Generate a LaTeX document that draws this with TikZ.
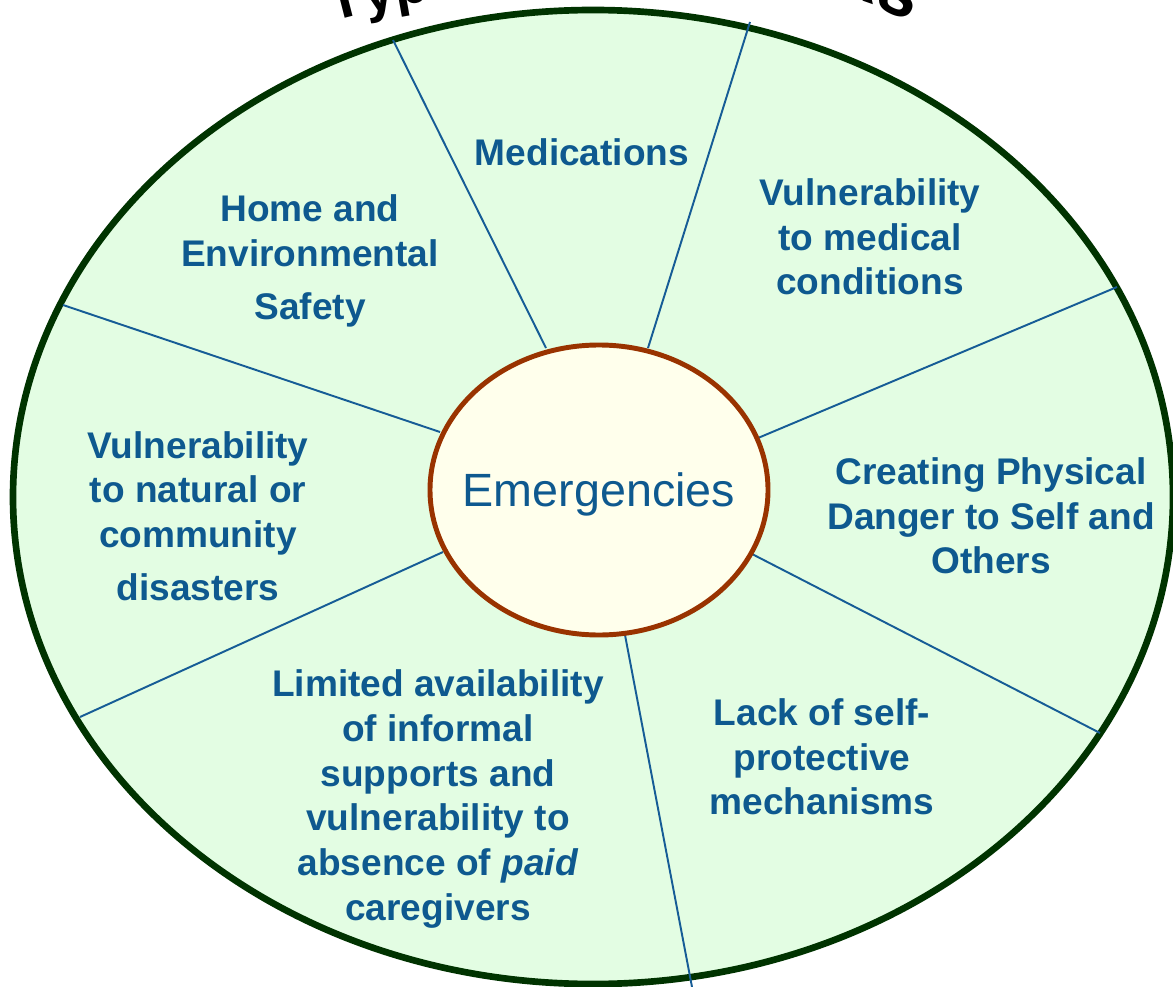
\documentclass[tikz,border=0pt]{standalone}
\usepackage{fontspec}
\setmainfont{Liberation Sans}
\usetikzlibrary{shapes.geometric,decorations.text}
\definecolor{outerfill}{RGB}{227,253,227}
\definecolor{outerline}{RGB}{0,51,0}
\definecolor{innerfill}{RGB}{255,255,236}
\definecolor{innerline}{RGB}{153,51,0}
\definecolor{spoke}{RGB}{22,92,150}
\definecolor{txt}{RGB}{14,89,143}
\newcommand{\titlestyle}{\fontsize{42}{42}\selectfont\bfseries}
\newcommand{\titlestyleb}{\fontsize{54}{54}\selectfont\bfseries}
\tikzset{
  catlabel/.style={text=txt, font=\fontsize{27.8}{33.5}\selectfont\bfseries, align=center, inner sep=0pt},
  spokeline/.style={draw=spoke, line width=1.45pt},
  titlepath/.style={decorate, decoration={text along path, text align=#1, text color=black}},
}
\begin{document}
\begin{tikzpicture}[x=0.75pt,y=-0.75pt]
\useasboundingbox (0,0) rectangle (1173,987);
\clip (0,0) rectangle (1173,987);
% title (mostly outside the picture)
\path[titlepath=left, decoration={text={|\titlestyle|Types of}}] (333,22) .. controls (500,-25) and (740,-25) .. (912,24);
\path[titlepath=right, decoration={text={|\titlestyleb|Risks}}] (333,22) .. controls (500,-25) and (730,-70) .. (910,22);
% outer ellipse
\node[ellipse, draw=outerline, fill=outerfill, line width=5pt, minimum width=870pt, minimum height=730.5pt, inner sep=0pt] (outer) at (593,497) {};
% spoke end points
\coordinate (oA) at (393,40);   \coordinate (iA) at (546,348);
\coordinate (oB) at (750,22);   \coordinate (iB) at (648,348);
\coordinate (oC) at (1117,287); \coordinate (iC) at (758,438);
\coordinate (oD) at (1100,733); \coordinate (iD) at (752,554);
\coordinate (oE) at (692,987);  \coordinate (iE) at (625,635);
\coordinate (oF) at (80,717);   \coordinate (iF) at (443,552);
\coordinate (oG) at (63,305);   \coordinate (iG) at (440,432);
\foreach \s in {A,B,C,D,E,F,G} { \draw[spokeline] (i\s) -- (o\s); }
% centre
\node[ellipse, draw=innerline, fill=innerfill, line width=3.7pt, minimum width=253.5pt, minimum height=217.5pt, inner sep=0pt, text=txt, font=\fontsize{35}{42}\selectfont, text depth=0pt] (em) at (599,490) {\makebox[0pt]{Emergencies}};
% labels
\node[catlabel] (med) at (582,152) {Medications};
\node[catlabel] (home) at (310,261) {Home and\\Environmental\\[6pt]Safety};
\node[catlabel] (vmed) at (870,237) {Vulnerability\\to medical\\conditions};
\node[catlabel] (phys) at (991,516) {Creating Physical\\Danger to Self and\\Others};
\node[catlabel] (lack) at (822,757) {Lack of self-\\protective\\mechanisms};
\node[catlabel] (lim) at (438,799) {Limited availability\\of informal\\supports and\\vulnerability to\\absence of \textit{paid}\\caregivers};
\node[catlabel] (vnat) at (198,516) {Vulnerability\\to natural or\\community\\[6pt]disasters};
\end{tikzpicture}
\end{document}
